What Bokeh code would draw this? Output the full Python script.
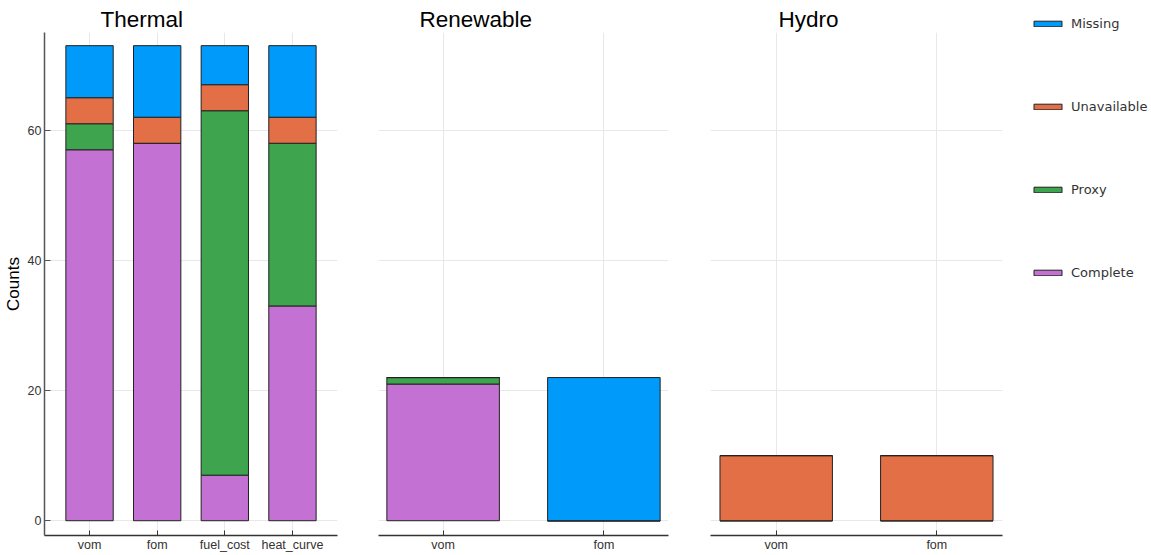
from bokeh.plotting import figure
from bokeh.models import (FactorRange, Range1d, FixedTicker, Legend, LegendItem,
                          ColumnDataSource)
from bokeh.layouts import row, column
from bokeh.embed import file_html
from bokeh.resources import INLINE

statuses = ["Complete", "Proxy", "Unavailable", "Missing"]
colors = ["#c371d2", "#3ea44e", "#e36f47", "#009afa"]

thermal_params = ["vom", "fom", "fuel_cost", "heat_curve"]
thermal_complete = [57, 58, 7, 33]
thermal_proxy = [4, 0, 56, 25]
thermal_unavailable = [4, 4, 4, 4]
thermal_missing = [8, 11, 6, 11]

renewable_params = ["vom", "fom"]
renewable_complete = [21, 0]
renewable_proxy = [1, 0]
renewable_unavailable = [0, 0]
renewable_missing = [0, 22]

hydro_params = ["vom", "fom"]
hydro_complete = [0, 0]
hydro_proxy = [0, 0]
hydro_unavailable = [10, 10]
hydro_missing = [0, 0]

y_ticks = [0, 20, 40, 60]

FONT = "Liberation Sans"
H = 554
y_range = Range1d(-2.27, 75.02)


def make_source(params, complete, proxy, unavailable, missing):
    return ColumnDataSource(dict(param=params, Complete=complete, Proxy=proxy,
                                 Unavailable=unavailable, Missing=missing))


def make_panel(title, src, params, width, border_left, border_right, pad,
               title_offset, show_y):
    p = figure(width=width, height=H,
               x_range=FactorRange(factors=params, range_padding=pad,
                                   range_padding_units="absolute"),
               y_range=y_range, output_backend="svg", toolbar_location=None,
               tools="", min_border_left=border_left, min_border_right=border_right,
               min_border_top=32, min_border_bottom=0)
    p.title.text = title
    p.title.text_font = FONT
    p.title.text_font_size = "22.5px"
    p.title.text_font_style = "normal"
    p.title.text_color = "#000000"
    p.title.align = "left"
    p.title.offset = title_offset
    p.title.standoff = 2
    p.outline_line_color = None

    p.vbar_stack(statuses, x="param", width=0.7, source=src,
                 fill_color=colors, line_color="#222222", line_width=1)

    p.xaxis.major_tick_in = 5
    p.xaxis.major_tick_out = 0
    p.xaxis.minor_tick_line_color = None
    p.xaxis.axis_line_color = "#333333"
    p.xaxis.axis_line_width = 1.5
    p.xaxis.major_tick_line_color = "#333333"
    p.xaxis.major_label_text_font = FONT
    p.xaxis.major_label_text_font_size = "12.5px"
    p.xaxis.major_label_text_color = "#333333"
    p.xaxis.major_label_standoff = 2

    p.yaxis.ticker = FixedTicker(ticks=y_ticks)
    p.ygrid.ticker = FixedTicker(ticks=y_ticks)
    p.yaxis.major_tick_in = 6
    p.yaxis.major_tick_out = 0
    p.yaxis.minor_tick_line_color = None
    p.yaxis.axis_line_color = "#555555"
    p.yaxis.axis_line_width = 1.5
    p.yaxis.major_tick_line_color = "#555555"
    p.yaxis.major_label_text_font = FONT
    p.yaxis.major_label_text_font_size = "12.5px"
    p.yaxis.major_label_text_color = "#333333"
    p.yaxis.major_label_standoff = 3
    if show_y:
        p.yaxis.axis_label = "Counts"
        p.yaxis.axis_label_text_font = FONT
        p.yaxis.axis_label_text_font_size = "17px"
        p.yaxis.axis_label_text_font_style = "normal"
        p.yaxis.axis_label_text_color = "#000000"
        p.yaxis.axis_label_standoff = 2
    else:
        p.yaxis.visible = False

    p.xgrid.grid_line_color = "#e8e8e8"
    p.ygrid.grid_line_color = "#e8e8e8"
    return p


thermal_src = make_source(thermal_params, thermal_complete, thermal_proxy,
                          thermal_unavailable, thermal_missing)
renewable_src = make_source(renewable_params, renewable_complete, renewable_proxy,
                            renewable_unavailable, renewable_missing)
hydro_src = make_source(hydro_params, hydro_complete, hydro_proxy,
                        hydro_unavailable, hydro_missing)

p1 = make_panel("Thermal", thermal_src, thermal_params, 357, 44, 20, 0.166, 56, True)
p2 = make_panel("Renewable", renewable_src, renewable_params, 331, 21, 20, -0.098, 41, False)
p3 = make_panel("Hydro", hydro_src, hydro_params, 327, 22, 13, -0.091, 68, False)

# legend panel
p4 = figure(width=135, height=H, x_range=FactorRange(factors=thermal_params),
            y_range=y_range, output_backend="svg", toolbar_location=None, tools="",
            min_border_left=0, min_border_right=0, min_border_top=0,
            min_border_bottom=18, title=None)
p4.axis.visible = False
p4.grid.visible = False
p4.outline_line_color = None
leg_r = p4.vbar_stack(statuses, x="param", width=0.7, source=thermal_src,
                      fill_color=colors, line_color="#222222", line_width=1)
for r in leg_r:
    r.visible = False
items = [LegendItem(label=s, renderers=[r]) for s, r in zip(statuses, leg_r)][::-1]
legend = Legend(items=items, location=(0, 241), glyph_width=35, glyph_height=7,
                label_height=7, label_standoff=6, spacing=68, padding=15, margin=0,
                border_line_alpha=0, background_fill_alpha=0,
                label_text_font="DejaVu Sans", label_text_font_size="13px",
                label_text_color="#333333")
p4.add_layout(legend)

layout = row(p1, p2, p3, column(p4))
open("out.html", "w").write(file_html(layout, INLINE))
